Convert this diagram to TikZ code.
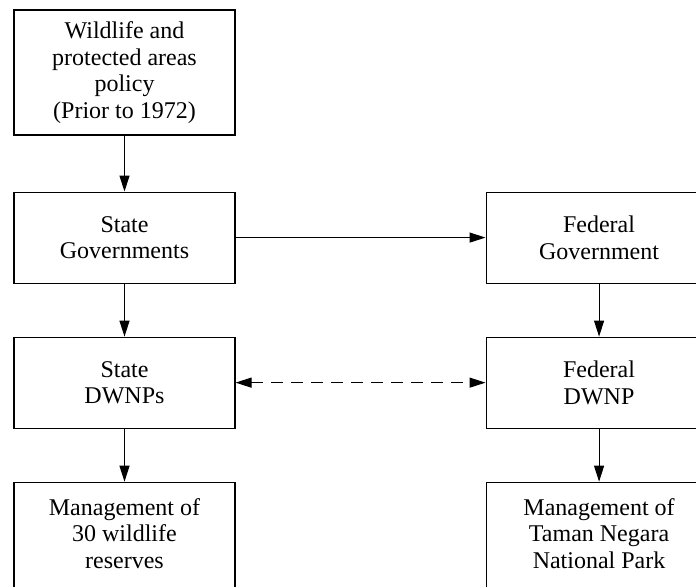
\documentclass[tikz,border=0pt]{standalone}
\usepackage{fontspec}
\setmainfont{Liberation Serif}
\usetikzlibrary{arrows.meta,positioning}

\begin{document}
\begin{tikzpicture}[x=0.75pt,y=-0.75pt,>={Triangle[length=12pt,width=7.5pt]},
  line width=0.8pt,font=\fontsize{18}{20}\selectfont,
  box/.style={rectangle,draw,align=center,inner xsep=4pt},
  left box/.style={box,minimum width=165.75pt},
  right box/.style={box,minimum width=169.5pt},
  end box/.style={inner ysep=12pt,text depth=80pt}]

  \useasboundingbox (0,0) rectangle (696,586);
  \clip (0,0) rectangle (696,586);

  \node[left box, minimum height=93.75pt] (policy) at (124.5,72.5) {Wildlife and\\protected areas\\policy\\(Prior to 1972)};
  \node[left box, minimum height=68.25pt] (stategov) [below=42pt of policy] {State\\Governments};
  \node[right box, minimum height=68.25pt] (fedgov) [right=187.5pt of stategov] {Federal\\Government};
  \node[left box, minimum height=68.25pt] (statedwnp) [below=39.75pt of stategov] {State\\DWNPs};
  \node[right box, minimum height=68.25pt] (feddwnp) [below=39.75pt of fedgov] {Federal\\DWNP};
  \node[left box, end box] (reserves) [below=39.75pt of statedwnp] {Management of\\30 wildlife\\reserves};
  \node[right box, end box] (tamannegara) [below=39.75pt of feddwnp] {Management of\\Taman Negara\\National Park};

  \draw[->] (policy) -- (stategov);
  \draw[->] (stategov) -- (fedgov);
  \draw[->] (stategov) -- (statedwnp);
  \draw[->] (fedgov) -- (feddwnp);
  \draw[<->,dash pattern=on 9pt off 6pt] (statedwnp) -- (feddwnp);
  \draw[->] (statedwnp) -- (reserves);
  \draw[->] (feddwnp) -- (tamannegara);
\end{tikzpicture}
\end{document}
